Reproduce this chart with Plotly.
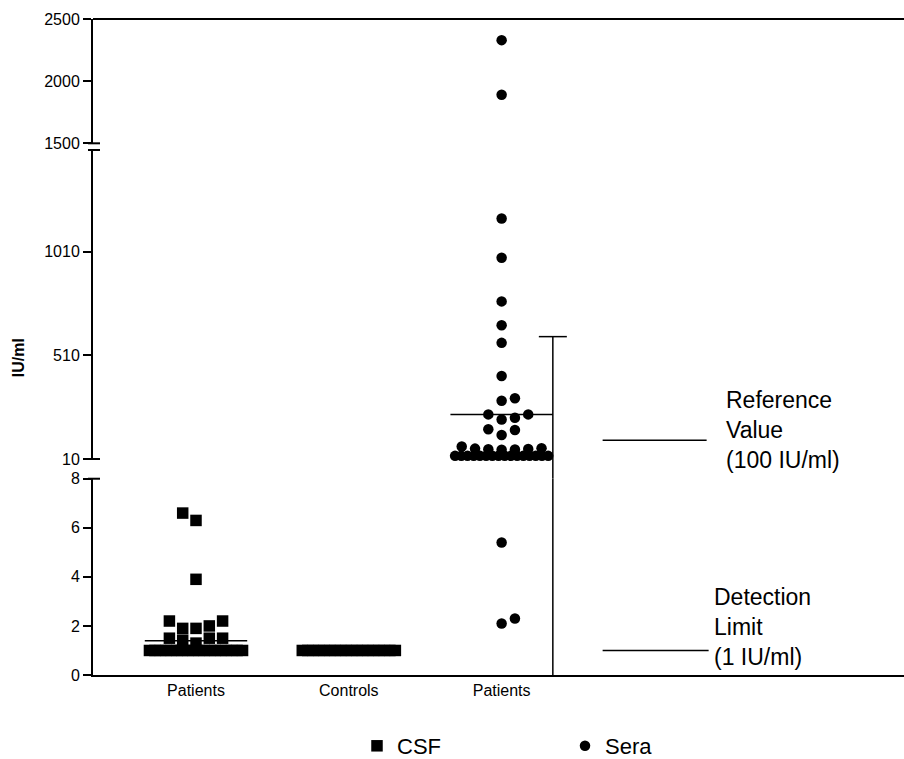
import plotly.graph_objects as go

# ---------------- data ----------------
categories = ["Patients", "Controls", "Patients"]
category_pos = [1, 2, 3]

csf_patients = [1.0, 1.0, 1.0, 1.0, 1.0, 1.0, 1.0, 1.0, 1.0, 1.0, 1.0, 1.0, 1.0, 1.0, 1.0, 1.0, 1.0, 1.0,
                1.3, 1.42, 1.5, 1.5, 1.5, 1.9, 1.9, 2.0, 2.2, 2.2, 3.9, 6.3, 6.6]
csf_controls = [1.0, 1.0, 1.0, 1.0, 1.0, 1.0, 1.0, 1.0, 1.0, 1.0, 1.0, 1.0, 1.0, 1.0, 1.0, 1.0, 1.0, 1.0]
sera_patients = [2.1, 2.3, 5.4,
                 25, 25, 25, 25, 25, 25, 25, 25, 25, 25, 25, 25, 25, 25, 25, 25,
                 55, 56, 57, 58, 60, 62, 70,
                 126, 150, 153, 200, 209, 225, 225, 291, 303, 410, 570, 655, 770, 980, 1170,
                 1890, 2330]

csf_patients_line = 1.4
sera_line = 225
sera_upper = 600
reference_value = 100
detection_limit = 1

# ---------------- layout constants ----------------
W, H_FIG = 904, 759
M_L, M_R, M_T, M_B = 93, 0, 19, 84
PW = W - M_L - M_R
PH = H_FIG - M_T - M_B
X_RANGE = [0.326, 5.633]
PX_PER_X = PW / (X_RANGE[1] - X_RANGE[0])

FONT = "Arial, Liberation Sans, sans-serif"
SEGMENTS = [
    dict(name="y", domain=[0.0, 0.2992], range=[0, 8], ticks=[0, 2, 4, 6, 8]),
    dict(name="y2", domain=[0.3293, 0.8003], range=[10, 1500], ticks=[10, 510, 1010]),
    dict(name="y3", domain=[0.8105, 1.0], range=[1500, 2500], ticks=[1500, 2000, 2500]),
]


def segment_of(v):
    if v <= SEGMENTS[0]["range"][1]:
        return 0
    if v <= SEGMENTS[1]["range"][1]:
        return 1
    return 2


def value_to_px(v):
    s = SEGMENTS[segment_of(v)]
    d0, d1 = s["domain"]
    r0, r1 = s["range"]
    frac = d0 + (v - r0) / (r1 - r0) * (d1 - d0)
    return M_T + (1 - frac) * PH


def swarm(values, col_px, first_side, tie_min=6, tie_span_cols=7, thresh=10.0):
    """Column-based beeswarm (Prism style) returning pixel x offsets."""
    offsets = [None] * len(values)
    counts = {}
    for v in values:
        counts[v] = counts.get(v, 0) + 1
    for v, c in counts.items():
        if c >= tie_min:
            idx = [i for i, vv in enumerate(values) if vv == v]
            step = min(col_px, tie_span_cols * col_px / (c - 1))
            for k, i in enumerate(idx):
                offsets[i] = (k - (c - 1) / 2) * step
    placed = []
    for i in sorted(range(len(values)), key=lambda j: values[j]):
        if offsets[i] is not None:
            continue
        y = value_to_px(values[i])
        col = 0
        for n in range(40):
            if n == 0:
                col = 0
            else:
                col = ((n + 1) // 2) * (first_side if n % 2 == 1 else -first_side)
            if all(not (pc == col and abs(py - y) < thresh) for pc, py in placed):
                break
        placed.append((col, y))
        offsets[i] = col * col_px
    return offsets


COL_PX = 13.3
fig = go.Figure()

groups = [
    ("CSF", "csf", csf_patients, category_pos[0], "square", 11.5, -1, True),
    ("CSF", "csf", csf_controls, category_pos[1], "square", 11.5, -1, False),
    ("Sera", "sera", sera_patients, category_pos[2], "circle", 10.5, 1, True),
]

for name, lg, vals, xc, sym, size, side, legend_candidate in groups:
    offs = swarm(vals, COL_PX, side)
    shown = False
    for si, seg in enumerate(SEGMENTS):
        xs = [xc + o / PX_PER_X for v, o in zip(vals, offs) if segment_of(v) == si]
        ys = [v for v in vals if segment_of(v) == si]
        if not ys:
            continue
        show = legend_candidate and not shown
        shown = shown or show
        fig.add_trace(go.Scatter(
            x=xs, y=ys, mode="markers", name=name, legendgroup=lg,
            showlegend=show, xaxis="x", yaxis=seg["name"], cliponaxis=False,
            marker=dict(symbol=sym, size=size, color="black", line=dict(width=0)),
            hoverinfo="y"))

# central lines
half_w = 3.85 * COL_PX / PX_PER_X
fig.add_trace(go.Scatter(x=[category_pos[0] - half_w, category_pos[0] + half_w],
                         y=[csf_patients_line, csf_patients_line], mode="lines",
                         line=dict(color="black", width=1.5), showlegend=False,
                         xaxis="x", yaxis="y", hoverinfo="skip"))
fig.add_trace(go.Scatter(x=[category_pos[2] - half_w, category_pos[2] + half_w],
                         y=[sera_line, sera_line], mode="lines",
                         line=dict(color="black", width=1.5), showlegend=False,
                         xaxis="x", yaxis="y2", hoverinfo="skip"))

shapes = []
line_style = dict(color="black", width=1.5)
# vertical spread bar for sera
bar_x = category_pos[2] + half_w
cap = 14 / PX_PER_X
shapes.append(dict(type="line", xref="x", yref="y2", x0=bar_x, x1=bar_x,
                   y0=SEGMENTS[1]["range"][0], y1=sera_upper, line=line_style))
shapes.append(dict(type="line", xref="x", yref="y2", x0=bar_x - cap, x1=bar_x + cap,
                   y0=sera_upper, y1=sera_upper, line=line_style))
shapes.append(dict(type="line", xref="x", yref="y", x0=bar_x, x1=bar_x,
                   y0=0, y1=SEGMENTS[0]["range"][1], line=line_style))
shapes.append(dict(type="line", xref="x", yref="paper", x0=bar_x, x1=bar_x,
                   y0=SEGMENTS[0]["domain"][1], y1=SEGMENTS[1]["domain"][0], line=line_style))

# reference / detection lines on the right
ref_x0 = category_pos[2] + 101 / PX_PER_X
ref_x1 = category_pos[2] + 205 / PX_PER_X
shapes.append(dict(type="line", xref="x", yref="y2", x0=ref_x0, x1=ref_x1,
                   y0=reference_value, y1=reference_value, line=line_style))
shapes.append(dict(type="line", xref="x", yref="y", x0=ref_x0, x1=ref_x1 + 2 / PX_PER_X,
                   y0=detection_limit, y1=detection_limit, line=line_style))

# top frame line
shapes.append(dict(type="line", xref="paper", yref="paper", x0=0, x1=1, y0=1, y1=1,
                   line=dict(color="black", width=2)))

# axis break marks
for yr, yy in [("y3 domain", 0), ("y2 domain", 1), ("y2 domain", 0), ("y domain", 1)]:
    shapes.append(dict(type="line", xref="paper", yref=yr, xsizemode="pixel", xanchor=0,
                       x0=-5, x1=7, y0=yy, y1=yy, line=dict(color="black", width=2)))

annotations = [
    dict(text="Reference<br>Value<br>(100 IU/ml)", xref="x", yref="y2",
         x=category_pos[2] + 222 / PX_PER_X, y=reference_value, yshift=10,
         xanchor="left", yanchor="middle", align="left", showarrow=False,
         font=dict(family=FONT, size=23, color="black")),
    dict(text="Detection<br>Limit<br>(1 IU/ml)", xref="x", yref="y",
         x=category_pos[2] + 210 / PX_PER_X, y=detection_limit, yshift=23,
         xanchor="left", yanchor="middle", align="left", showarrow=False,
         font=dict(family=FONT, size=23, color="black")),
    dict(text="<b>IU/ml</b>", xref="paper", yref="paper", x=0, xshift=-75, y=0.483,
         textangle=-90, showarrow=False, xanchor="center", yanchor="middle",
         font=dict(family=FONT, size=16, color="black")),
]

yaxis_common = dict(showline=True, linecolor="black", linewidth=2, ticks="outside",
                    ticklen=8, tickwidth=2, tickcolor="black", showgrid=False,
                    zeroline=False, tickfont=dict(family=FONT, size=16, color="black"),
                    anchor="x", fixedrange=True)

layout = dict(
    width=W, height=H_FIG, autosize=False,
    margin=dict(l=M_L, r=M_R, t=M_T, b=M_B, autoexpand=False),
    paper_bgcolor="white", plot_bgcolor="white",
    font=dict(family=FONT, color="black"),
    xaxis=dict(range=X_RANGE, tickvals=category_pos, ticktext=categories,
               showline=True, linecolor="black", linewidth=2, ticks="",
               showgrid=False, zeroline=False,
               tickfont=dict(family=FONT, size=16, color="black"), fixedrange=True),
    shapes=shapes, annotations=annotations,
    showlegend=True,
    legend=dict(orientation="h", x=(357 - M_L) / PW, xanchor="left",
                y=(M_T + PH - 746) / PH, yanchor="middle",
                font=dict(family=FONT, size=22, color="black"),
                entrywidth=163, entrywidthmode="pixels",
                bgcolor="rgba(0,0,0,0)"),
)
for seg in SEGMENTS:
    key = "yaxis" if seg["name"] == "y" else "yaxis" + seg["name"][1:]
    layout[key] = dict(yaxis_common, domain=seg["domain"], range=seg["range"],
                       tickvals=seg["ticks"])

fig.update_layout(**layout)
fig.write_html("out.html",
               config={"responsive": False, "displayModeBar": False},
               post_script="document.body.style.margin='0';document.body.style.overflow='hidden';")
